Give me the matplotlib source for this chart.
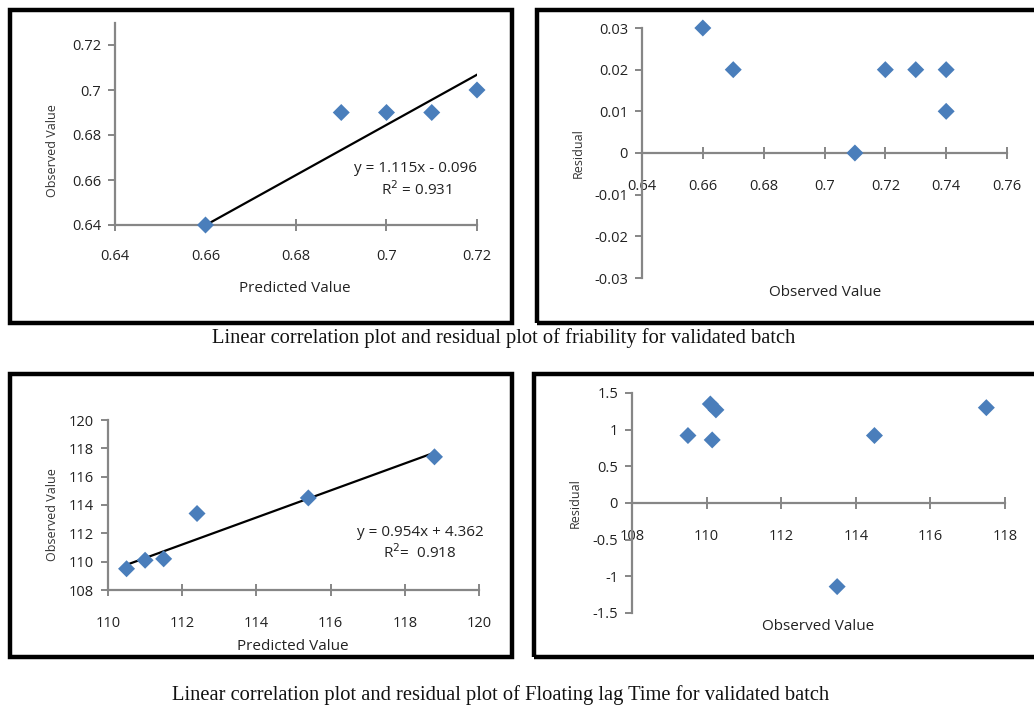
import matplotlib
matplotlib.use("Agg")
import matplotlib.pyplot as plt
from matplotlib.patches import Rectangle
import numpy as np

# ---------------- data ----------------
fri_pred = [0.66, 0.69, 0.70, 0.71, 0.72]
fri_obs = [0.64, 0.69, 0.69, 0.69, 0.70]
fri_slope, fri_intercept = 1.115, -0.096
fri_eq = "y = 1.115x - 0.096"
fri_r2 = "R$^2$ = 0.931"

fri_res_obs = [0.66, 0.67, 0.71, 0.72, 0.73, 0.74, 0.74]
fri_res = [0.03, 0.02, 0.00, 0.02, 0.02, 0.02, 0.01]

flt_pred = [110.5, 111.0, 111.5, 112.4, 115.4, 118.8]
flt_obs = [109.5, 110.1, 110.2, 113.4, 114.5, 117.4]
flt_slope, flt_intercept = 0.954, 4.362
flt_eq = "y = 0.954x + 4.362"
flt_r2 = "R$^2$=  0.918"

flt_res_obs = [109.5, 110.1, 110.25, 110.15, 113.5, 114.5, 117.5]
flt_res = [0.92, 1.35, 1.27, 0.86, -1.14, 0.92, 1.30]

fri_xticks = [0.64, 0.66, 0.68, 0.70, 0.72]
fri_xticklabels = ["0.64", "0.66", "0.68", "0.7", "0.72"]
fri_yticks = [0.64, 0.66, 0.68, 0.70, 0.72]
fri_yticklabels = ["0.64", "0.66", "0.68", "0.7", "0.72"]
fri_res_xticks = [0.64, 0.66, 0.68, 0.70, 0.72, 0.74, 0.76]
fri_res_xticklabels = ["0.64", "0.66", "0.68", "0.7", "0.72", "0.74", "0.76"]
fri_res_yticks = [-0.03, -0.02, -0.01, 0, 0.01, 0.02, 0.03]
fri_res_yticklabels = ["-0.03", "-0.02", "-0.01", "0", "0.01", "0.02", "0.03"]
flt_xticks = [110, 112, 114, 116, 118, 120]
flt_yticks = [108, 110, 112, 114, 116, 118, 120]
flt_res_xticks = [108, 110, 112, 114, 116, 118]
flt_res_yticks = [-1.5, -1, -0.5, 0, 0.5, 1, 1.5]
flt_res_yticklabels = ["-1.5", "-1", "-0.5", "0", "0.5", "1", "1.5"]

caption1 = "Linear correlation plot and residual plot of friability for validated batch"
caption2 = "Linear correlation plot and residual plot of Floating lag Time for validated batch"

# ---------------- style ----------------
W, H = 1034, 709
MARK = "#4A7EBB"
AXC = "#868686"
TXT = "#222222"
SANS = ["Open Sans", "DejaVu Sans"]
SERIF = ["Liberation Serif", "DejaVu Serif"]
FS = 10.5

fig = plt.figure(figsize=(W / 100, H / 100), dpi=100)
fig.patch.set_facecolor("white")


def px_axes(left, right, top, bottom):
    return fig.add_axes([left / W, 1 - bottom / H, (right - left) / W, (bottom - top) / H])


def frame(x0, x1, y0, y1):
    fig.patches.append(Rectangle((x0 / W, 1 - y1 / H), (x1 - x0) / W, (y1 - y0) / H,
                                 transform=fig.transFigure, fill=False,
                                 edgecolor="black", lw=3.2, zorder=10))


def style(ax, xpad):
    for s in ("top", "right"):
        ax.spines[s].set_visible(False)
    for s in ("left", "bottom"):
        ax.spines[s].set_color(AXC)
        ax.spines[s].set_linewidth(1.6)
    ax.tick_params(axis="both", colors=AXC, labelcolor=TXT, labelsize=FS,
                   width=1.4, length=5)
    ax.tick_params(axis="x", direction="inout", length=8, pad=xpad)
    ax.tick_params(axis="y", pad=5)
    for lab in ax.get_xticklabels() + ax.get_yticklabels():
        lab.set_family(SANS)
    ax.patch.set_alpha(0)


def fig_text(x, y, s, **kw):
    fig.text(x / W, 1 - y / H, s, **kw)


def scatter(ax, x, y):
    ax.scatter(x, y, marker="D", s=75, color=MARK, zorder=3, edgecolors="none", clip_on=False)


# frames
frame(10, 512, 10, 323)
frame(537, 1040, 10, 323)
frame(10, 512, 374, 657)
frame(534, 1040, 374, 657)

# --- top-left: friability correlation ---
ax1 = px_axes(115, 477, 22.5, 225)
scatter(ax1, fri_pred, fri_obs)
xl = np.array([min(fri_pred), max(fri_pred)])
ax1.plot(xl, fri_slope * xl + fri_intercept, color="black", lw=1.6, zorder=2)
ax1.set_xlim(0.64, 0.72)
ax1.set_ylim(0.64, 0.73)
ax1.set_xticks(fri_xticks, fri_xticklabels)
ax1.set_yticks(fri_yticks, fri_yticklabels)
style(ax1, 13)

# --- top-right: friability residual ---
ax2 = px_axes(642, 1007, 28, 278)
scatter(ax2, fri_res_obs, fri_res)
ax2.set_xlim(0.64, 0.76)
ax2.set_ylim(-0.03, 0.03)
ax2.set_xticks(fri_res_xticks, fri_res_xticklabels)
ax2.set_yticks(fri_res_yticks, fri_res_yticklabels)
ax2.spines["bottom"].set_position(("data", 0))
style(ax2, 15)

# --- bottom-left: floating lag time correlation ---
ax3 = px_axes(108, 479, 420, 590)
scatter(ax3, flt_pred, flt_obs)
xl = np.array([min(flt_pred), max(flt_pred)])
ax3.plot(xl, flt_slope * xl + flt_intercept, color="black", lw=1.6, zorder=2)
ax3.set_xlim(110, 120)
ax3.set_ylim(108, 120)
ax3.set_xticks(flt_xticks)
ax3.set_yticks(flt_yticks)
style(ax3, 15)

# --- bottom-right: floating lag time residual ---
ax4 = px_axes(632, 1005, 393, 613)
scatter(ax4, flt_res_obs, flt_res)
ax4.set_xlim(108, 118)
ax4.set_ylim(-1.5, 1.5)
ax4.set_xticks(flt_res_xticks)
ax4.set_yticks(flt_res_yticks, flt_res_yticklabels)
ax4.spines["bottom"].set_position(("data", 0))
style(ax4, 15)

# equations
fig_text(415, 168, fri_eq, ha="center", va="center", fontsize=11, family=SANS, color=TXT)
fig_text(416, 190, fri_r2, ha="center", va="center", fontsize=11, family=SANS, color=TXT)
fig_text(420, 533, flt_eq, ha="center", va="center", fontsize=11, family=SANS, color=TXT)
fig_text(420, 553, flt_r2, ha="center", va="center", fontsize=11, family=SANS, color=TXT)

# axis titles
fig_text(295, 288, "Predicted Value", ha="center", va="center", fontsize=11, family=SANS, color=TXT)
fig_text(825, 293, "Observed Value", ha="center", va="center", fontsize=11, family=SANS, color=TXT)
fig_text(293, 647, "Predicted Value", ha="center", va="center", fontsize=11, family=SANS, color=TXT)
fig_text(818, 627, "Observed Value", ha="center", va="center", fontsize=11, family=SANS, color=TXT)

fig_text(53, 151, "Observed Value", ha="center", va="center", rotation=90, fontsize=9, family=SANS, color="#333333")
fig_text(578, 153, "Residual", ha="center", va="center", rotation=90, fontsize=9, family=SANS, color="#333333")
fig_text(53, 515, "Observed Value", ha="center", va="center", rotation=90, fontsize=9, family=SANS, color="#333333")
fig_text(575, 503, "Residual", ha="center", va="center", rotation=90, fontsize=9, family=SANS, color="#333333")

# captions
fig_text(504, 338, caption1, ha="center", va="center", fontsize=14.8, family=SERIF, color="#111111")
fig_text(501, 695, caption2, ha="center", va="center", fontsize=14.8, family=SERIF, color="#111111")

fig.savefig("out.png", dpi=100)
